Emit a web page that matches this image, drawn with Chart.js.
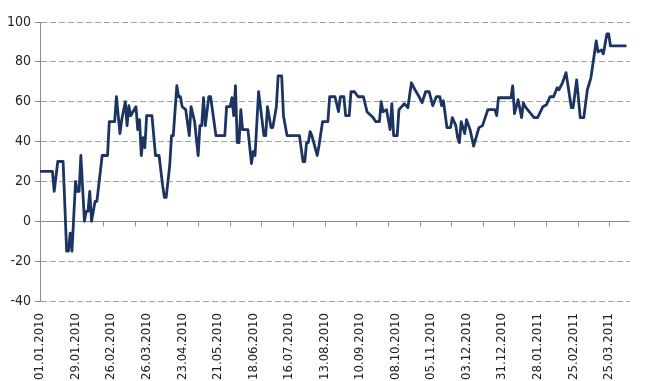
<!DOCTYPE html>
<html>
<head>
<meta charset="utf-8">
<script src="https://cdn.jsdelivr.net/npm/chart.js@4/dist/chart.umd.min.js"></script>
<style>
  html, body { margin: 0; padding: 0; background: #fff; }
</style>
</head>
<body>
<canvas id="chart" width="650" height="381"></canvas>
<script>
// trading-day index (0 = 01.01.2010) and value
const dayIdx = [0,7,8,10,13,15,16,17,18,20,21,22,23,25,26,27,28,29,31,32,35,38,39,42,43,45,46,48,49,50,51,54,55,56,57,58,59,60,63,65,67,69,70,71,73,74,75,77,78,79,80,82,84,85,87,89,90,91,92,93,95,96,99,104,105,107,108,109,110,111,112,113,114,117,119,120,121,123,126,127,128,130,131,133,134,136,137,139,146,148,149,150,151,152,153,156,157,159,162,163,166,168,169,171,172,174,175,177,179,182,184,187,189,191,192,193,195,197,198,199,201,202,205,207,209,211,213,215,217,219,221,223,225,226,227,229,231,232,234,235,236,237,239,240,242,244,247,249,252,256,257,258,265,266,267,269,271,272,273,278,280,283,285,287,289,291,292,294,296,299,300,302,304,306,308,310,313,314,316,317,319,320,321,330];
const values = [25,25,15,30,30,-15,-15,-6,-15,20,15,15,33,0,5,5,15,0,10,10,33,33,50,50,62.5,44,51,60,48,58,53,57.5,46,51,33,42,37,53,53,33,33,18,12,12,28,43,43,68,62.5,62.5,57.5,56,43,57.5,50,33,48,48,62,48,62.5,62.5,43,43,57.5,57.5,62,53,68,39.5,39.5,56,46,46,29,35,33,65,43,43,57.5,47,47,57.5,73,73,53,43,43,30,30,39.5,39.5,45,43,33,38,50,50,62.5,62.5,55,62.5,62.5,53,53,65,65,62.5,62.5,55,52.5,50,50,60,55,56,46,59,43,43,56,59,57,69.5,66,63,59.5,65,65,58,62.5,62.5,58,60.5,47,47,52,48,42,39.5,50,44,51,46,37.7,47,48,56,56,53,62,62,68,54,61,52,59.5,57.5,52,52,57.5,58.5,62.5,62.5,67,66,69.5,74.6,57,57,71,52,52,66,72,90.5,85,86,84,94,94,88,88];
const tickLabels = ['01.01.2010','29.01.2010','26.02.2010','26.03.2010','23.04.2010','21.05.2010','18.06.2010','16.07.2010','13.08.2010','10.09.2010','08.10.2010','05.11.2010','03.12.2010','31.12.2010','28.01.2011','25.02.2011','25.03.2011'];
const labelEvery = 20;   // trading days between date labels
const markEvery = 17.8;  // spacing of the small tick marks on the zero line

const FONT = "'Liberation Sans Narrow', 'DejaVu Sans Condensed', 'Liberation Sans', sans-serif";

// solid zero axis with small tick marks hanging below it
const zeroAxis = {
    id: 'zeroAxis',
    beforeDatasetsDraw(chart) {
        const {ctx, chartArea, scales: {x, y}} = chart;
        const y0 = Math.round(y.getPixelForValue(0)) + 0.5;
        ctx.save();
        ctx.strokeStyle = '#8c8c8c';
        ctx.lineWidth = 1;
        ctx.beginPath();
        ctx.moveTo(chartArea.left, y0);
        ctx.lineTo(chartArea.right, y0);
        for (let v = markEvery; v <= x.max; v += markEvery) {
            const px = Math.round(x.getPixelForValue(v)) + 0.5;
            ctx.moveTo(px, y0);
            ctx.lineTo(px, y0 + 5);
        }
        ctx.stroke();
        ctx.restore();
    }
};

new Chart(document.getElementById('chart'), {
    type: 'line',
    data: {
        datasets: [{
            data: dayIdx.map((d, i) => ({x: d, y: values[i]})),
            borderColor: '#1c3461',
            borderWidth: 2.8,
            borderJoinStyle: 'round',
            pointRadius: 0,
            tension: 0,
            fill: false
        }]
    },
    options: {
        responsive: false,
        animation: false,
        layout: {padding: {top: 22, right: 20, left: 0, bottom: 0}},
        plugins: {legend: {display: false}, tooltip: {enabled: false}},
        scales: {
            x: {
                type: 'linear',
                min: 0,
                max: 332,
                afterFit: s => { s.height = 80; },
                grid: {display: false},
                border: {display: false},
                ticks: {
                    stepSize: labelEvery,
                    minRotation: 90,
                    maxRotation: 90,
                    autoSkip: false,
                    padding: 4,
                    color: '#222',
                    font: {family: FONT, size: 13},
                    callback: v => (v % labelEvery === 0 ? (tickLabels[v / labelEvery] || '') : '')
                }
            },
            y: {
                min: -40,
                max: 100,
                afterFit: s => { s.width = 40; },
                grid: {
                    color: ctx => (ctx.tick && ctx.tick.value === 0 ? 'rgba(0,0,0,0)' : '#a3a3a3'),
                    lineWidth: 1,
                    tickLength: 5,
                    tickColor: '#8c8c8c'
                },
                border: {display: true, color: '#8c8c8c', dash: [6, 3]},
                ticks: {
                    stepSize: 20,
                    padding: 4,
                    color: '#222',
                    font: {family: FONT, size: 14}
                }
            }
        }
    },
    plugins: [zeroAxis]
});
</script>
</body>
</html>
